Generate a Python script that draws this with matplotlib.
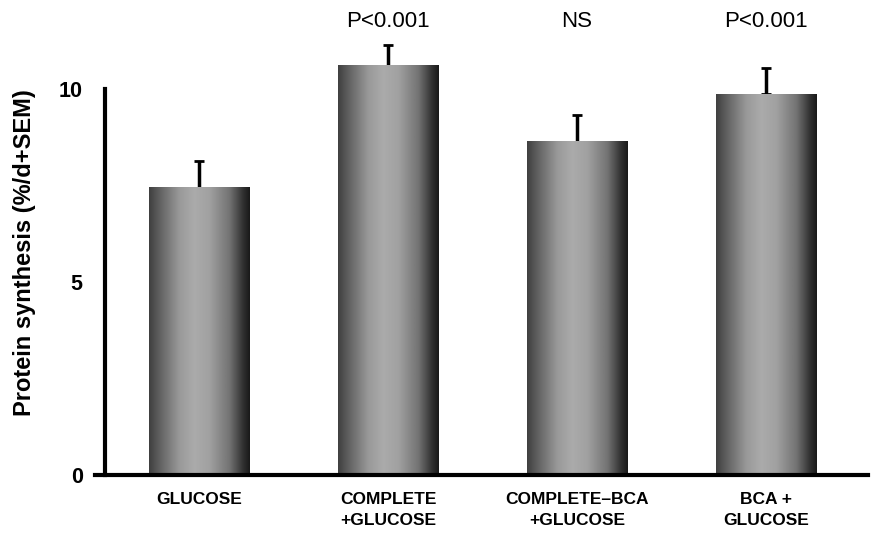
import matplotlib
import matplotlib.pyplot as plt
import matplotlib.transforms as mtransforms
import numpy as np

matplotlib.use('Agg')
plt.rcParams['font.family'] = ['Liberation Sans', 'DejaVu Sans']

# data
groups = ["GLUCOSE", "COMPLETE\n+GLUCOSE", "COMPLETE\u2013BCA\n+GLUCOSE", "BCA +\nGLUCOSE"]
synthesis = [7.44, 10.6, 8.63, 9.87]
sem = [0.69, 0.54, 0.70, 0.67]
p_labels = ["", "P<0.001", "NS", "P<0.001"]
y_ticks = [0, 5, 10]

fig = plt.figure(figsize=(8.77, 5.38), dpi=100)
ax = fig.add_axes([95 / 877, 63 / 538, (868 - 95) / 877, 475 / 538])

x = np.arange(len(groups))
width = 0.53

# cylinder-like shading: dark edges, light middle
stops = [0.0, 0.08, 0.3, 0.45, 0.6, 0.8, 0.93, 1.0]
shade = [0.25, 0.35, 0.6, 0.67, 0.63, 0.45, 0.2, 0.1]
grad = np.interp(np.linspace(0, 1, 200), stops, shade)[None, :]

bars = ax.bar(x, synthesis, width, color='none', edgecolor='none', zorder=2)
for b in bars:
    x0, y0 = b.get_x(), b.get_y()
    ax.imshow(grad, extent=(x0, x0 + b.get_width(), y0, y0 + b.get_height()),
              aspect='auto', cmap='gray', vmin=0, vmax=1, zorder=2,
              interpolation='bilinear')

# upper error bars only
ax.errorbar(x, synthesis, yerr=[np.zeros(len(sem)), sem], fmt='none',
            ecolor='k', elinewidth=2.5, capsize=3.5, capthick=2, zorder=1)

ax.set_xlim(-0.55, 3.54)
ax.set_ylim(0, 475 / 38.6)

for s in ['top', 'right']:
    ax.spines[s].set_visible(False)
ax.spines['left'].set_position(('data', -0.497))
ax.spines['left'].set_bounds(0, 10)
ax.spines['left'].set_linewidth(3)
ax.spines['bottom'].set_linewidth(3)

ax.set_yticks(y_ticks)
ax.tick_params(axis='y', length=0, pad=16, labelsize=15.5)
for t in ax.get_yticklabels():
    t.set_fontweight('bold')

ax.set_xticks(x)
ax.set_xticklabels(groups, fontsize=12.5, fontweight='bold', linespacing=1.5)
ax.tick_params(axis='x', length=0, pad=12)

trans = mtransforms.blended_transform_factory(ax.transData, ax.transAxes)
for xi, lab in zip(x, p_labels):
    ax.text(xi, 0.954, lab, transform=trans, ha='center', va='center', fontsize=16)

fig.text(25 / 877, 0.53, "Protein synthesis (%/d+SEM)", rotation=90,
         ha='center', va='center', fontsize=17, fontweight='bold')

fig.savefig('out.png', dpi=100)
